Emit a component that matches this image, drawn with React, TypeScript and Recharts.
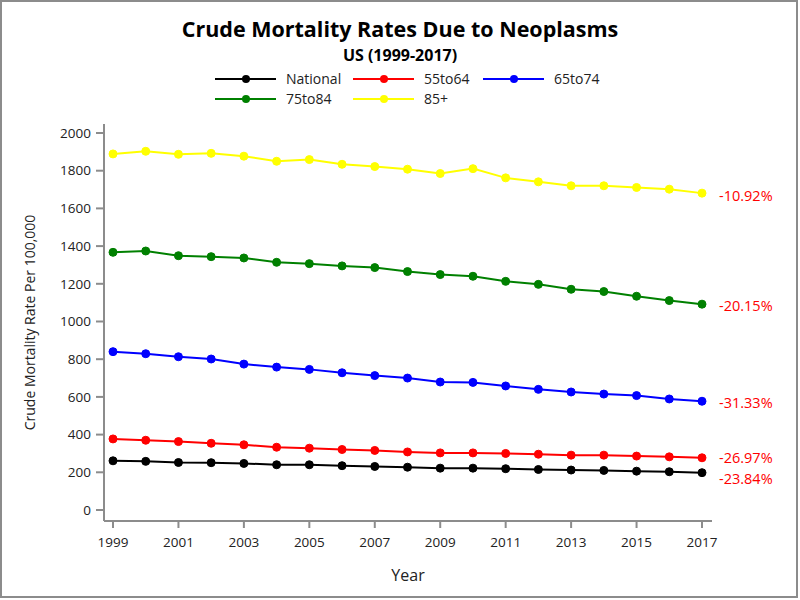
import { LineChart, Line, XAxis, YAxis, LabelList } from "recharts"

const years = [1999, 2000, 2001, 2002, 2003, 2004, 2005, 2006, 2007, 2008, 2009, 2010, 2011, 2012, 2013, 2014, 2015, 2016, 2017]
const national = [261, 258, 252, 251, 247, 240, 240, 235, 231, 227, 222, 222, 219, 215, 212, 210, 206, 203, 198]
const age55to64 = [377, 370, 363, 354, 346, 333, 328, 321, 316, 308, 303, 303, 300, 296, 291, 291, 286, 282, 277]
const age65to74 = [840, 829, 813, 801, 774, 758, 746, 728, 713, 700, 679, 677, 658, 640, 626, 615, 607, 589, 577]
const age75to84 = [1367, 1374, 1349, 1344, 1337, 1314, 1307, 1295, 1286, 1265, 1249, 1240, 1213, 1197, 1171, 1159, 1134, 1111, 1092]
const age85plus = [1889, 1903, 1887, 1892, 1877, 1850, 1859, 1834, 1822, 1808, 1785, 1811, 1762, 1741, 1720, 1720, 1711, 1702, 1681]

const seriesNames = ["National", "55to64", "65to74", "75to84", "85+"]
const changeLabels = ["-23.84%", "-26.97%", "-31.33%", "-20.15%", "-10.92%"]
const yTicks = [0, 200, 400, 600, 800, 1000, 1200, 1400, 1600, 1800, 2000]
const xTicks = [1999, 2001, 2003, 2005, 2007, 2009, 2011, 2013, 2015, 2017]

const colors = ["#000000", "#ff0000", "#0000ff", "#008000", "#ffff00"]
const labelNudge = [6, 0, 1, 1, 2]

const seriesValues = [national, age55to64, age65to74, age75to84, age85plus]
const keys = ["s0", "s1", "s2", "s3", "s4"]

const chartData = years.map((year, i) => {
    const row: Record<string, number> = { year }
    seriesValues.forEach((vals, s) => { row[keys[s]] = vals[i] })
    return row
})

const FONT = "'Open Sans', sans-serif"
const AXIS = "#8c8c8c"
const lastIndex = years.length - 1

function LegendGlyph({ color }: { color: string }) {
    return (
        <svg width={61} height={10} style={{ display: "block" }}>
            <line x1={0} y1={5} x2={61} y2={5} stroke={color} strokeWidth={2} />
            <circle cx={31} cy={5} r={4} fill={color} />
        </svg>
    )
}

export default function App() {
    const colWidths = [138, 130, 130]
    return (
        <div style={{ position: "absolute", left: 0, top: 0, width: 800, height: 600, background: "#fff", fontFamily: FONT }}>
            <div style={{ position: "absolute", left: 0, top: 0, width: 798, height: 598, boxSizing: "border-box", border: `2px solid ${AXIS}` }} />
            <div style={{ position: "absolute", left: 0, top: 17, width: 800, textAlign: "center", fontSize: 21.5, fontWeight: 700, color: "#000", lineHeight: "24px" }}>
                Crude Mortality Rates Due to Neoplasms
            </div>
            <div style={{ position: "absolute", left: 0, top: 46, width: 800, textAlign: "center", fontSize: 16, fontWeight: 700, color: "#000", lineHeight: "18px" }}>
                US (1999-2017)
            </div>
            <div style={{ position: "absolute", left: 215, top: 69, display: "grid", gridTemplateColumns: colWidths.map(w => w + "px").join(" "), rowGap: 0 }}>
                {seriesNames.map((name, i) => (
                    <div key={name} style={{ display: "flex", alignItems: "center", height: 20 }}>
                        <LegendGlyph color={colors[i]} />
                        <span style={{ marginLeft: 10, fontSize: 14, color: "#222", lineHeight: "20px" }}>{name}</span>
                    </div>
                ))}
            </div>
            <div style={{ position: "absolute", left: 0, top: 0 }}>
                <LineChart width={800} height={600} data={chartData} margin={{ top: 124, right: 88, left: 0, bottom: 0 }}>
                    <XAxis
                        dataKey="year"
                        type="number"
                        domain={[1999, 2017]}
                        ticks={xTicks}
                        padding={{ left: 9, right: 10 }}
                        height={79}
                        stroke={AXIS}
                        strokeWidth={2}
                        tickSize={7}
                        tickMargin={9}
                        tick={{ fill: "#222", fontSize: 13.5, fontFamily: FONT }}
                        label={{ value: "Year", position: "insideBottom", offset: 19, style: { fill: "#222", fontSize: 16, fontFamily: FONT } }}
                    />
                    <XAxis xAxisId="top" orientation="top" dataKey="year" type="number" domain={[1999, 2017]} height={0} tick={false} tickLine={false} stroke={AXIS} strokeWidth={2} />
                    <YAxis
                        type="number"
                        domain={[0, 2000]}
                        ticks={yTicks}
                        padding={{ top: 9, bottom: 11 }}
                        width={104}
                        stroke={AXIS}
                        strokeWidth={2}
                        tickSize={8}
                        tickMargin={5}
                        tick={{ fill: "#222", fontSize: 13.5, fontFamily: FONT }}
                        label={{ value: "Crude Mortality Rate Per 100,000", angle: -90, position: "insideLeft", offset: 30, style: { textAnchor: "middle", fill: "#222", fontSize: 14, fontFamily: FONT } }}
                    />
                    <YAxis yAxisId="right" orientation="right" domain={[0, 1]} width={0} tick={false} tickLine={false} stroke={AXIS} strokeWidth={2} />
                    {keys.map((k, s) => (
                        <Line
                            key={k}
                            dataKey={k}
                            stroke={colors[s]}
                            strokeWidth={2}
                            dot={{ r: 4, fill: colors[s], stroke: colors[s], strokeWidth: 1 }}
                            isAnimationActive={false}
                        >
                            <LabelList
                                dataKey={k}
                                content={(p: any) => {
                                    if (p.index !== lastIndex) return null
                                    return (
                                        <text x={Number(p.x) + 17} y={Number(p.y) + labelNudge[s]} dominantBaseline="central" fill="#ff0000" fontSize={14.5} fontFamily={FONT}>
                                            {changeLabels[s]}
                                        </text>
                                    )
                                }}
                            />
                        </Line>
                    ))}
                </LineChart>
            </div>
        </div>
    )
}
